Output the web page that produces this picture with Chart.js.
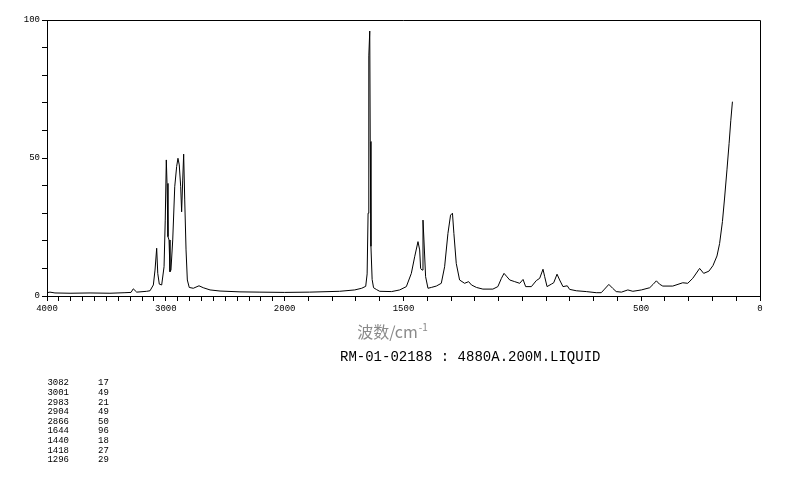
<!DOCTYPE html>
<html>
<head>
<meta charset="utf-8">
<script src="https://cdn.jsdelivr.net/npm/chart.js@4"></script>
<style>
  html, body { margin: 0; padding: 0; background: #fff; }
  canvas { display: block; }
</style>
</head>
<body>
<canvas id="spectrum" width="794" height="482"></canvas>
<script>
// Raman shift (cm-1) and intensity
const wavenumbers = [
  4000, 3975, 3933, 3806, 3638, 3470, 3344, 3293, 3274, 3245, 3161, 3133, 3105, 3091, 3077, 3068,
  3055, 3035, 3015, 3005, 2996, 2990, 2982, 2973, 2965, 2957, 2942, 2925, 2909, 2898, 2887, 2875,
  2867, 2858, 2850, 2841, 2830, 2819, 2803, 2769, 2721, 2685, 2628, 2544, 2376, 2208, 2000,
  1895, 1769, 1705, 1676, 1659, 1653, 1649, 1646, 1642, 1640, 1637, 1632, 1626, 1613, 1600,
  1550, 1516, 1488, 1467, 1453, 1439, 1432, 1428, 1422, 1418, 1414, 1407, 1397, 1383, 1362,
  1341, 1327, 1313, 1302, 1294, 1288, 1278, 1264, 1243, 1226, 1214, 1193, 1166, 1124, 1103,
  1088, 1077, 1067, 1053, 1032, 1011, 997, 986, 962, 941, 927, 913, 906, 896, 878, 868, 854,
  843, 829, 811, 801, 773, 731, 689, 668, 654, 636, 620, 605, 583, 556, 535, 499, 464, 450,
  436, 423, 409, 367, 325, 304, 283, 254, 237, 215, 198, 181, 170, 158, 149, 139, 130, 123, 116
];
const intensities = [
  1.2, 1.4, 1.1, 1.0, 1.1, 1.0, 1.2, 1.3, 2.6, 1.4, 1.7, 1.9, 4.0, 9.4, 17.3, 8.2,
  4.3, 4.0, 10.6, 27.5, 49.3, 40.8, 21.5, 20.3, 8.8, 9.4, 20.3, 39.6, 46.9, 49.9, 47.5, 39.6,
  30.5, 42.0, 51.4, 34.8, 16.7, 5.8, 3.1, 2.8, 3.7, 3.0, 2.2, 1.8, 1.5, 1.4, 1.3,
  1.4, 1.7, 2.2, 2.8, 3.5, 8.0, 30.0, 87.0, 96.0, 56.0, 18.0, 6.0, 3.0, 2.3, 1.7,
  1.6, 2.2, 3.4, 8.2, 14.2, 19.7, 16.7, 10.0, 9.4, 27.5, 20.3, 7.0, 2.8, 3.1, 3.6,
  4.6, 10.6, 22.7, 29.3, 30.0, 22.7, 11.8, 5.8, 4.6, 5.2, 4.0, 3.1, 2.5, 2.5, 3.4,
  6.4, 8.2, 7.2, 5.8, 5.2, 4.6, 6.0, 3.4, 3.4, 5.6, 6.4, 9.7, 7.0, 3.4, 4.3, 4.8, 7.9,
  5.8, 3.4, 3.7, 2.4, 1.9, 1.6, 1.2, 1.2, 2.5, 4.2, 2.8, 1.6, 1.4, 2.2, 1.7, 2.2, 3.0, 4.2,
  5.5, 4.3, 3.6, 3.6, 4.8, 4.6, 6.4, 10.0, 8.2, 9.0, 11.0, 14.5, 19.0, 27.0, 35.5, 45.7, 55.3, 63.5, 70.4
];

const xTicks = [];
for (let w = 4000; w >= 0; w -= 100) xTicks.push(w);
const xLabels = [4000, 3000, 2000, 1500, 500, 0];
const yLabels = [0, 50, 100];

const peakShifts = ['3082', '3001', '2983', '2904', '2866', '1644', '1440', '1418', '1296'];
const peakValues = ['17', '49', '21', '49', '50', '96', '18', '27', '29'];

// axis is compressed 2x above 2000 cm-1
function toUnits(w) {
  return w >= 2000 ? (4000 - w) / 1000 : 2 + (2000 - w) / 500;
}

class RamanScale extends Chart.LinearScale {
  static id = 'raman';
  getPixelForValue(value) {
    if (value === null || value === undefined) return NaN;
    return this.getPixelForDecimal(toUnits(value) / 6);
  }
  getValueForPixel(pixel) {
    const u = this.getDecimalForPixel(pixel) * 6;
    return u <= 2 ? 4000 - u * 1000 : 2000 - (u - 2) * 500;
  }
}
Chart.register(RamanScale);

const tickFont = { family: 'Liberation Mono', size: 9 };

const extras = {
  id: 'extras',
  afterDraw(chart) {
    const { ctx, chartArea: a } = chart;
    ctx.save();
    ctx.strokeStyle = '#000';
    ctx.lineWidth = 1;
    ctx.beginPath();
    ctx.moveTo(a.left, a.top + 0.5);
    ctx.lineTo(a.right + 0.5, a.top + 0.5);
    ctx.lineTo(a.right + 0.5, a.bottom);
    ctx.stroke();

    // axis title
    ctx.fillStyle = '#8a8a8a';
    ctx.textBaseline = 'middle';
    ctx.font = '16px "Noto Sans CJK SC"';
    const main = '波数/cm';
    const w1 = ctx.measureText(main).width;
    ctx.font = '10px "Noto Sans CJK SC"';
    const w2 = ctx.measureText('-1').width;
    let x0 = 392 - (w1 + w2) / 2;
    ctx.font = '16px "Noto Sans CJK SC"';
    ctx.fillText(main, x0, 332);
    ctx.font = '10px "Noto Sans CJK SC"';
    ctx.fillText('-1', x0 + w1 + 1, 327);

    ctx.fillStyle = '#000';
    ctx.font = '14px "Liberation Mono"';
    ctx.fillText('RM-01-02188 : 4880A.200M.LIQUID', 340, 357);

    ctx.font = '9px "Liberation Mono"';
    peakShifts.forEach((s, i) => {
      const y = 383 + i * 9.6;
      ctx.textAlign = 'right';
      ctx.fillText(s, 69, y);
      ctx.textAlign = 'left';
      ctx.fillText(peakValues[i], 98, y);
    });
    ctx.restore();
  }
};

new Chart(document.getElementById('spectrum'), {
  type: 'scatter',
  data: {
    datasets: [{
      data: wavenumbers.map((w, i) => ({ x: w, y: intensities[i] })),
      showLine: true,
      borderColor: '#000',
      borderWidth: 1,
      pointRadius: 0,
      tension: 0
    }]
  },
  options: {
    responsive: false,
    animation: false,
    devicePixelRatio: 1,
    layout: { padding: { left: 0, right: 34, top: 20, bottom: 0 } },
    plugins: { legend: { display: false }, tooltip: { enabled: false } },
    scales: {
      x: {
        type: 'raman',
        min: 0,
        max: 4000,
        afterBuildTicks: (s) => { s.ticks = xTicks.map(v => ({ value: v })); },
        afterFit: (s) => { s.height = 186; },
        ticks: {
          autoSkip: false,
          maxRotation: 0,
          padding: 2,
          color: '#000',
          font: tickFont,
          callback: (v) => xLabels.includes(v) ? String(v) : ''
        },
        grid: { drawOnChartArea: false, tickLength: 5, color: '#000' },
        border: { color: '#000' }
      },
      y: {
        min: 0,
        max: 100,
        afterFit: (s) => { s.width = 47; },
        ticks: {
          stepSize: 10,
          padding: 2,
          color: '#000',
          font: tickFont,
          callback: (v) => yLabels.includes(v) ? String(v) : ''
        },
        grid: { drawOnChartArea: false, tickLength: 5, color: '#000' },
        border: { color: '#000' }
      }
    }
  },
  plugins: [extras]
});
</script>
</body>
</html>
